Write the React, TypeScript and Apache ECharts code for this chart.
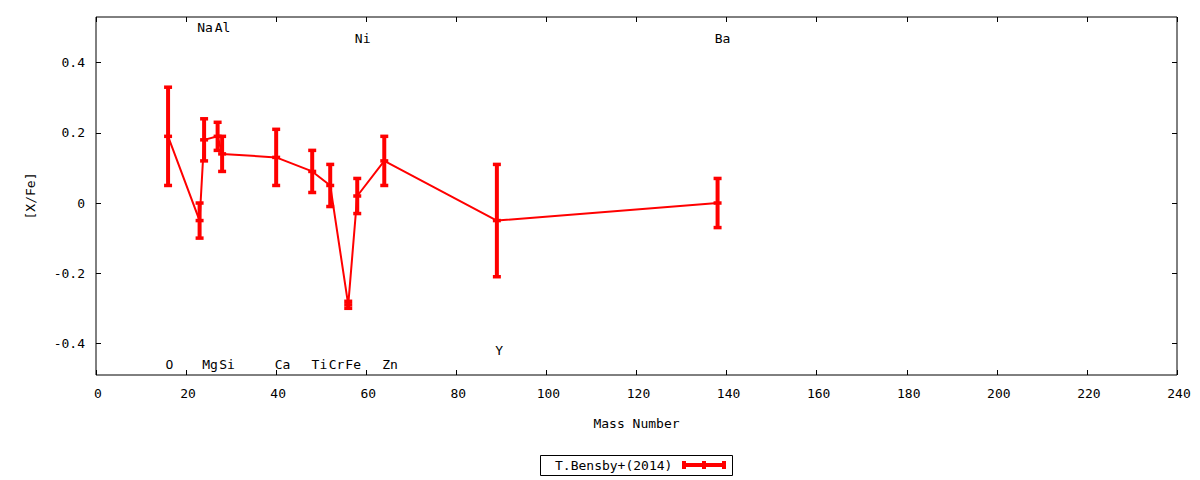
import React, { useEffect, useRef } from "react";
import * as echarts from "echarts";

const elements = ["O", "Na", "Mg", "Al", "Si", "Ca", "Ti", "Cr", "Fe", "Ni", "Zn", "Y", "Ba"];
const massNumbers = [16, 23, 24, 27, 28, 40, 48, 52, 56, 58, 64, 89, 138];
const abundances = [0.19, -0.05, 0.18, 0.19, 0.14, 0.13, 0.09, 0.05, -0.29, 0.02, 0.12, -0.05, 0.0];
const errors = [0.14, 0.05, 0.06, 0.04, 0.05, 0.08, 0.06, 0.06, 0.01, 0.05, 0.07, 0.16, 0.07];
const labelX = [16.3, 24.2, 25.3, 28.1, 29.1, 41.4, 49.6, 53.4, 57.1, 59.2, 65.3, 89.5, 139.1];
const labelY = [-0.46, 0.5, -0.46, 0.5, -0.46, -0.46, -0.46, -0.46, -0.46, 0.47, -0.46, -0.42, 0.47];
const yTicks = [-0.4, -0.2, 0, 0.2, 0.4];
const seriesName = "T.Bensby+(2014)";

const FONT = "DejaVu Sans Mono";
const RED = "#ff0000";

export default function App() {
  const ref = useRef<HTMLDivElement>(null);

  useEffect(() => {
    if (!ref.current) return;
    const chart = echarts.init(ref.current, null, { renderer: "svg" });

    const points = massNumbers.map((m, i) => [m, abundances[i], errors[i]]);
    const labels = labelX.map((x, i) => [x, labelY[i], elements[i]]);

    const tickStyle = { inside: true, length: 5, lineStyle: { color: "#000", width: 1 } };
    const labelStyle = { color: "#000", fontFamily: FONT, fontSize: 13 };
    const hiddenLine = { show: false, onZero: false };

    const option: any = {
      animation: false,
      grid: {
        left: 96,
        right: 23,
        top: 17,
        bottom: 105,
        show: true,
        borderColor: "#000",
        borderWidth: 1,
        backgroundColor: "transparent",
      },
      xAxis: [
        {
          type: "value",
          min: 0,
          max: 240,
          interval: 20,
          position: "bottom",
          axisLine: hiddenLine,
          axisTick: tickStyle,
          axisLabel: { ...labelStyle, margin: 12, padding: [0, 0, 0, 4] },
          splitLine: { show: false },
          name: "Mass Number",
          nameLocation: "middle",
          nameGap: 42,
          nameTextStyle: labelStyle,
        },
        {
          type: "value",
          min: 0,
          max: 240,
          interval: 20,
          position: "top",
          axisLine: hiddenLine,
          axisTick: tickStyle,
          axisLabel: { show: false },
          splitLine: { show: false },
        },
      ],
      yAxis: [
        {
          type: "value",
          min: -0.49,
          max: 0.53,
          position: "left",
          axisLine: hiddenLine,
          axisTick: { ...tickStyle, customValues: yTicks },
          axisLabel: {
            ...labelStyle,
            margin: 11,
            customValues: yTicks,
            formatter: (v: number) => (Math.abs(v) < 1e-9 ? "0" : String(v)),
          },
          splitLine: { show: false },
          name: "[X/Fe]",
          nameLocation: "middle",
          nameGap: 59,
          nameTextStyle: labelStyle,
        },
        {
          type: "value",
          min: -0.49,
          max: 0.53,
          position: "right",
          axisLine: hiddenLine,
          axisTick: { ...tickStyle, customValues: yTicks },
          axisLabel: { show: false },
          splitLine: { show: false },
        },
      ],
      series: [
        {
          type: "line",
          name: seriesName,
          data: points.map((p) => [p[0], p[1]]),
          showSymbol: false,
          symbol: "none",
          lineStyle: { color: RED, width: 2 },
          silent: true,
          z: 2,
        },
        {
          type: "custom",
          name: seriesName,
          data: points,
          encode: { x: 0, y: 1 },
          silent: true,
          z: 3,
          renderItem: (params: any, api: any) => {
            const x = api.value(0);
            const y = api.value(1);
            const e = api.value(2);
            const mid = api.coord([x, y]);
            const top = api.coord([x, y + e]);
            const bot = api.coord([x, y - e]);
            const hw = 4;
            const style = { stroke: RED, lineWidth: 4, fill: "none" };
            const capStyle = { stroke: RED, lineWidth: 3.5, fill: "none" };
            return {
              type: "group",
              children: [
                { type: "line", shape: { x1: mid[0], y1: top[1], x2: mid[0], y2: bot[1] }, style },
                { type: "line", shape: { x1: mid[0] - hw, y1: top[1], x2: mid[0] + hw, y2: top[1] }, style: capStyle },
                { type: "line", shape: { x1: mid[0] - hw, y1: bot[1], x2: mid[0] + hw, y2: bot[1] }, style: capStyle },
                { type: "line", shape: { x1: mid[0] - hw, y1: mid[1], x2: mid[0] + hw, y2: mid[1] }, style: capStyle },
              ],
            };
          },
        },
        {
          type: "custom",
          name: "labels",
          data: labels,
          encode: { x: 0, y: 1 },
          silent: true,
          z: 4,
          renderItem: (params: any, api: any) => {
            const pt = api.coord([api.value(0), api.value(1)]);
            return {
              type: "text",
              x: pt[0],
              y: pt[1],
              style: {
                text: labels[params.dataIndex][2],
                textAlign: "center",
                textVerticalAlign: "middle",
                fill: "#000",
                font: `13px "${FONT}"`,
              },
            };
          },
        },
      ],
      graphic: [
        {
          type: "rect",
          shape: { x: 540.5, y: 455.5, width: 192, height: 20 },
          style: { stroke: "#000", lineWidth: 1, fill: "none" },
          silent: true,
        },
        {
          type: "text",
          x: 555,
          y: 465.5,
          style: {
            text: seriesName,
            fill: "#000",
            font: `13px "${FONT}"`,
            textAlign: "left",
            textVerticalAlign: "middle",
          },
          silent: true,
        },
        {
          type: "line",
          shape: { x1: 683, y1: 465, x2: 725, y2: 465 },
          style: { stroke: RED, lineWidth: 4 },
          silent: true,
        },
        {
          type: "line",
          shape: { x1: 684, y1: 461, x2: 684, y2: 469 },
          style: { stroke: RED, lineWidth: 4 },
          silent: true,
        },
        {
          type: "line",
          shape: { x1: 724, y1: 461, x2: 724, y2: 469 },
          style: { stroke: RED, lineWidth: 4 },
          silent: true,
        },
        {
          type: "line",
          shape: { x1: 704, y1: 461, x2: 704, y2: 469 },
          style: { stroke: RED, lineWidth: 4 },
          silent: true,
        },
      ],
    };

    chart.setOption(option);
    return () => chart.dispose();
  }, []);

  return (
    <div
      ref={ref}
      style={{ position: "fixed", left: 0, top: 0, width: 1200, height: 480, background: "#fff" }}
    />
  );
}
